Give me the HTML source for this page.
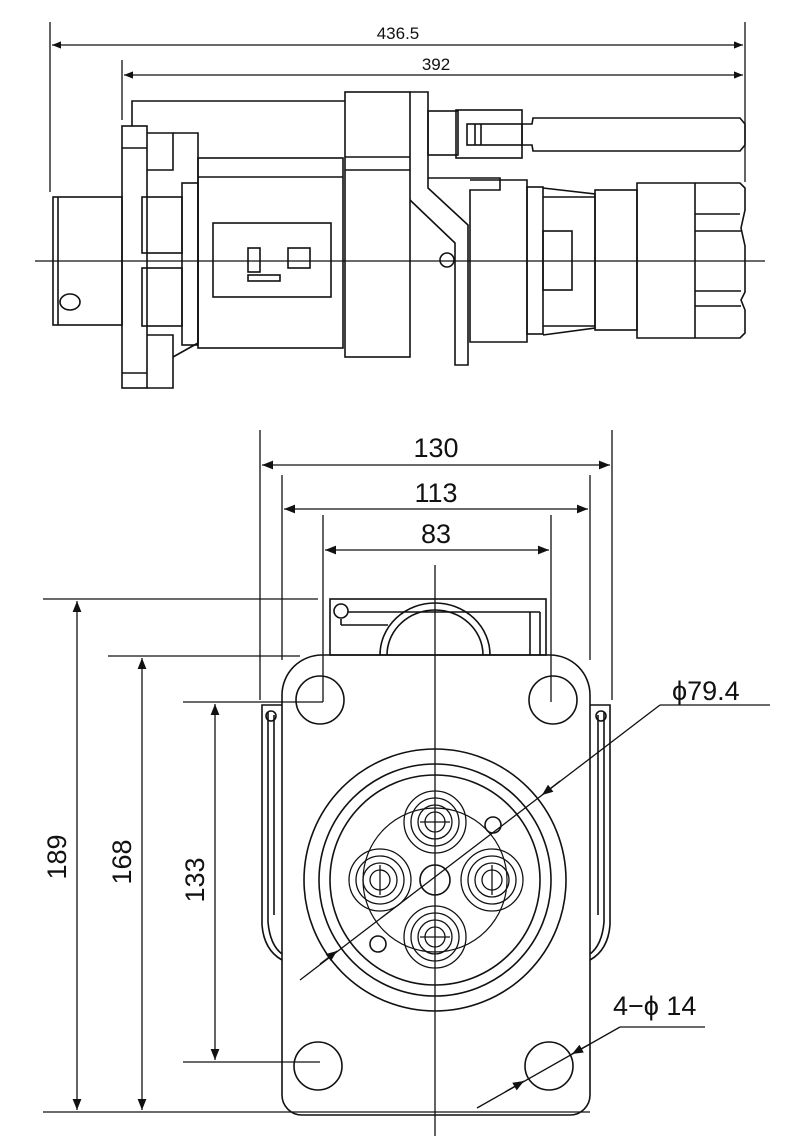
<!DOCTYPE html>
<html><head><meta charset="utf-8"><style>
html,body{margin:0;padding:0;background:#fff}
svg{display:block}
text{font-family:"Liberation Sans",Arial,sans-serif;fill:#111}
</style></head><body>
<svg width="790" height="1136" viewBox="0 0 790 1136" xmlns="http://www.w3.org/2000/svg">
<defs>
<marker id="a" viewBox="0 0 10 10" refX="10" refY="5" markerWidth="9" markerHeight="9" orient="auto-start-reverse" markerUnits="userSpaceOnUse"><path d="M0,1 L10,5 L0,9 z" fill="#111"/></marker>
<marker id="b" viewBox="0 0 10 10" refX="10" refY="5" markerWidth="13" markerHeight="11" orient="auto-start-reverse" markerUnits="userSpaceOnUse"><path d="M0,1 L10,5 L0,9 z" fill="#111"/></marker>
</defs>
<g fill="none" stroke="#111" stroke-width="1.6">
<!-- ===== side view ===== -->
<line x1="50" y1="22" x2="50" y2="192" stroke-width="1.3"/>
<line x1="745" y1="22" x2="745" y2="182" stroke-width="1.3"/>
<line x1="122" y1="60" x2="122" y2="120" stroke-width="1.3"/>
<line x1="52" y1="45" x2="743" y2="45" marker-start="url(#a)" marker-end="url(#a)" stroke-width="1.2"/>
<line x1="124" y1="75" x2="743" y2="75" marker-start="url(#a)" marker-end="url(#a)" stroke-width="1.2"/>
<line x1="35" y1="261" x2="765" y2="261" stroke-width="1.3"/>
<rect x="53" y="197" width="69" height="128"/>
<line x1="58" y1="197" x2="58" y2="325"/>
<ellipse cx="70" cy="302" rx="10" ry="8"/>
<rect x="122" y="126" width="25" height="262"/>
<line x1="122" y1="148" x2="147" y2="148"/><line x1="122" y1="373" x2="147" y2="373"/>
<polyline points="132,126 132,101 345,101"/>
<polyline points="147,133 173,133 173,170 147,170"/>
<polyline points="173,133 198,133 198,343"/>
<rect x="142" y="197" width="40" height="56"/>
<rect x="142" y="268" width="40" height="58"/>
<rect x="182" y="183" width="16" height="162"/>
<polyline points="147,335 173,335 173,388 147,388"/>
<line x1="173" y1="357" x2="198" y2="343"/>
<rect x="198" y="158" width="145" height="190"/>
<line x1="198" y1="177" x2="343" y2="177"/>
<rect x="213" y="223" width="118" height="74"/>
<rect x="248" y="248" width="12" height="24"/><rect x="288" y="248" width="22" height="20"/>
<rect x="248" y="275" width="32" height="6"/>
<rect x="345" y="92" width="65" height="265"/>
<line x1="345" y1="157" x2="410" y2="157"/><line x1="345" y1="170" x2="410" y2="170"/>
<polyline points="410,92 428,92 428,188 468,225 468,365 455,365 455,243 410,200"/>
<circle cx="447" cy="260" r="7"/>
<rect x="428" y="111" width="30" height="44"/>
<rect x="456" y="110" width="66" height="48"/>
<polyline points="522,124 532,124 533,118 740,118 745,124 745,145 740,151 533,151 532,145 522,145"/>
<rect x="467" y="124" width="55" height="21"/>
<line x1="475" y1="124" x2="475" y2="145"/><line x1="481" y1="124" x2="481" y2="145"/>
<polyline points="428,178 500,178 500,190 470,190 470,342 527,342 527,180 470,180"/>
<rect x="527" y="187" width="16" height="147"/>
<polyline points="543,188 595,194 595,328 543,335"/>
<line x1="543" y1="197" x2="595" y2="197"/><line x1="543" y1="326" x2="595" y2="326"/>
<rect x="543" y="231" width="29" height="59"/>
<rect x="595" y="190" width="42" height="140"/>
<path d="M637,183 L740,183 L745,188 L745,210 L741,228 L745,246 L745,292 L741,300 L745,310 L745,333 L740,338 L637,338 Z"/>
<line x1="695" y1="183" x2="695" y2="338"/>
<polyline points="695,214 740,214"/><polyline points="695,231 741,231"/><polyline points="695,291 741,291"/><polyline points="695,306 741,306"/>

<!-- ===== front view ===== -->
<line x1="260" y1="430" x2="260" y2="700" stroke-width="1.3"/>
<line x1="612" y1="430" x2="612" y2="700" stroke-width="1.3"/>
<line x1="282" y1="475" x2="282" y2="660" stroke-width="1.3"/>
<line x1="590" y1="475" x2="590" y2="660" stroke-width="1.3"/>
<line x1="323" y1="515" x2="323" y2="702" stroke-width="1.3"/>
<line x1="551" y1="515" x2="551" y2="702" stroke-width="1.3"/>
<line x1="262" y1="465" x2="610" y2="465" marker-start="url(#b)" marker-end="url(#b)" stroke-width="1.3"/>
<line x1="284" y1="509" x2="588" y2="509" marker-start="url(#b)" marker-end="url(#b)" stroke-width="1.3"/>
<line x1="325" y1="550" x2="549" y2="550" marker-start="url(#b)" marker-end="url(#b)" stroke-width="1.3"/>
<line x1="435" y1="565" x2="435" y2="1136" stroke-width="1.3"/>
<line x1="43" y1="599" x2="318" y2="599" stroke-width="1.3"/>
<line x1="43" y1="1112" x2="590" y2="1112" stroke-width="1.3"/>
<line x1="108" y1="656" x2="300" y2="656" stroke-width="1.3"/>
<line x1="183" y1="702" x2="323" y2="702" stroke-width="1.3"/>
<line x1="183" y1="1062" x2="320" y2="1062" stroke-width="1.3"/>
<line x1="77" y1="601" x2="77" y2="1110" marker-start="url(#b)" marker-end="url(#b)" stroke-width="1.3"/>
<line x1="142" y1="658" x2="142" y2="1110" marker-start="url(#b)" marker-end="url(#b)" stroke-width="1.3"/>
<line x1="215" y1="704" x2="215" y2="1060" marker-start="url(#b)" marker-end="url(#b)" stroke-width="1.3"/>
<rect x="330" y="599" width="216" height="56"/>
<line x1="348" y1="612" x2="540" y2="612"/><line x1="341" y1="619" x2="341" y2="625"/>
<line x1="341" y1="625" x2="388" y2="625"/>
<line x1="530" y1="612" x2="530" y2="655"/><line x1="540" y1="612" x2="540" y2="655"/>
<circle cx="341" cy="611" r="7"/>
<path d="M380,655 A55,52 0 0 1 490,655"/>
<path d="M387,655 A48,45 0 0 1 483,655"/>
<path d="M322,655 L550,655 A40,40 0 0 1 590,695 L590,1095 A20,20 0 0 1 570,1115 L302,1115 A20,20 0 0 1 282,1095 L282,695 A40,40 0 0 1 322,655 Z"/>
<circle cx="320" cy="700" r="24"/><circle cx="553" cy="700" r="24"/>
<circle cx="318" cy="1066" r="24"/><circle cx="549" cy="1066" r="24"/>
<path d="M282,705 L262,705 L262,925 Q264,950 282,960"/>
<path d="M268,712 L268,922 Q270,945 282,954"/>
<line x1="274" y1="715" x2="274" y2="915"/>
<circle cx="271" cy="716" r="5"/>
<path d="M590,705 L610,705 L610,925 Q608,950 590,960"/>
<path d="M604,712 L604,922 Q602,945 590,954"/>
<line x1="598" y1="715" x2="598" y2="915"/>
<circle cx="601" cy="716" r="5"/>
<circle cx="435" cy="880" r="131"/>
<circle cx="435" cy="880" r="116"/>
<circle cx="435" cy="880" r="105"/>
<circle cx="435" cy="880" r="72" stroke-width="1.2"/>
<circle cx="435" cy="880" r="15"/>
<circle cx="493" cy="825" r="8"/><circle cx="378" cy="944" r="8"/>
<g stroke-width="1.3">
<circle cx="435" cy="822" r="31"/><circle cx="435" cy="822" r="24"/><circle cx="435" cy="822" r="17"/><circle cx="435" cy="822" r="10"/>
<circle cx="435" cy="937" r="31"/><circle cx="435" cy="937" r="24"/><circle cx="435" cy="937" r="17"/><circle cx="435" cy="937" r="10"/>
<circle cx="380" cy="880" r="31"/><circle cx="380" cy="880" r="24"/><circle cx="380" cy="880" r="17"/><circle cx="380" cy="880" r="10"/>
<circle cx="492" cy="880" r="31"/><circle cx="492" cy="880" r="24"/><circle cx="492" cy="880" r="17"/><circle cx="492" cy="880" r="10"/>
<line x1="420" y1="822" x2="450" y2="822"/><line x1="420" y1="937" x2="450" y2="937"/>
<line x1="380" y1="865" x2="380" y2="895"/><line x1="492" y1="865" x2="492" y2="895"/>
</g>
<line x1="300" y1="980" x2="660" y2="705" stroke-width="1.3"/>
<line x1="660" y1="705" x2="770" y2="705" stroke-width="1.3"/>
<line x1="560" y1="781" x2="542" y2="795" marker-end="url(#b)" stroke-width="1.3"/>
<line x1="320" y1="964" x2="337" y2="951" marker-end="url(#b)" stroke-width="1.3"/>
<line x1="477" y1="1108" x2="620" y2="1027" stroke-width="1.3"/>
<line x1="620" y1="1027" x2="705" y2="1027" stroke-width="1.3"/>
<line x1="590" y1="1044" x2="572" y2="1054" marker-end="url(#b)" stroke-width="1.3"/>
<line x1="505" y1="1092" x2="524" y2="1081" marker-end="url(#b)" stroke-width="1.3"/>
</g>
<g font-size="17">
<text x="398" y="39" text-anchor="middle">436.5</text>
<text x="436" y="70" text-anchor="middle">392</text>
</g>
<g font-size="27">
<text x="436" y="457" text-anchor="middle">130</text>
<text x="436" y="502" text-anchor="middle">113</text>
<text x="436" y="543" text-anchor="middle">83</text>
<text x="672" y="700">ϕ79.4</text>
<text x="613" y="1015">4−ϕ 14</text>
<text transform="translate(66,857) rotate(-90)" text-anchor="middle">189</text>
<text transform="translate(131,862) rotate(-90)" text-anchor="middle">168</text>
<text transform="translate(204,880) rotate(-90)" text-anchor="middle">133</text>
</g>
</svg>
</body></html>
